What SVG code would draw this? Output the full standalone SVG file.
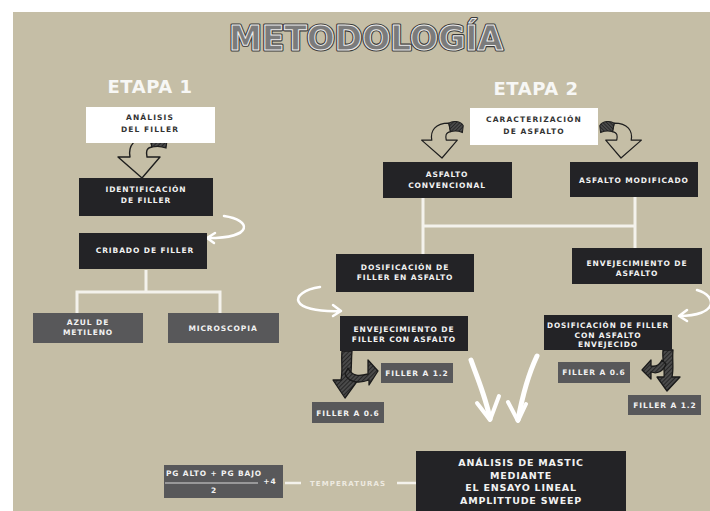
<svg xmlns="http://www.w3.org/2000/svg" width="710" height="511" viewBox="0 0 710 511">
<defs>
<style>
.t{font-family:"DejaVu Sans",Verdana,sans-serif;font-weight:bold;text-anchor:middle}
.s{font-size:7.5px;letter-spacing:0.9px;fill:#f2f2f2}
.d{font-size:7.5px;letter-spacing:1.1px;fill:#333}
.dark{fill:#232326}
.gray{fill:#58585a}
.wl{stroke:#f4f2ec;stroke-width:3;fill:none}
.wa{stroke:#ffffff;stroke-width:2.5;fill:none;stroke-linecap:round;stroke-linejoin:round}
.hd{font-size:18px;letter-spacing:0.5px;fill:#f7f7f5}
</style>
<pattern id="hatch" width="3" height="3" patternUnits="userSpaceOnUse" patternTransform="rotate(45)">
<rect width="3" height="3" fill="#4a4a4a"/>
<line x1="0" y1="0" x2="0" y2="3" stroke="#161616" stroke-width="1.4"/>
</pattern>
<g id="curly">
<path d="M-24,-21 L-12,-21 C-14,-32 -8,-41 8,-41 L10,-31 C4,-30 4,-26 5,-21 L18,-21 L0,0 Z" fill="none" stroke="#1e1e1e" stroke-width="1.4" stroke-linejoin="round"/>
<path d="M8,-41 C12,-44 22,-44 25,-38 L24,-30 C19,-32 14,-32 10,-31 Z" fill="url(#hatch)" stroke="#1e1e1e" stroke-width="1.2"/>
</g>
</defs>
<rect x="0" y="0" width="710" height="511" fill="#ffffff"/>
<rect x="13" y="12" width="697" height="499" fill="#c5bea6"/>

<g id="title">
<text x="366" y="50" class="t" font-size="33" textLength="274" lengthAdjust="spacingAndGlyphs" fill="#777" stroke="#3a3a3a" stroke-width="3.2" stroke-linejoin="round">METODOLOGÍA</text>
<text x="366" y="50" class="t" font-size="33" textLength="274" lengthAdjust="spacingAndGlyphs" fill="#7b7b7b" stroke="#ececec" stroke-width="1" stroke-linejoin="round">METODOLOGÍA</text>
</g>
<g id="etapa1"><text x="150" y="93" class="t hd">ETAPA 1</text></g>
<g id="etapa2"><text x="536" y="95" class="t hd">ETAPA 2</text></g>

<g id="connectors">
<use href="#curly" transform="translate(142,178)"/>
<use href="#curly" transform="translate(442,158) scale(0.85,0.85)"/>
<use href="#curly" transform="translate(621,158) scale(-0.85,0.85)"/>
<path class="wl" d="M146,270 V292 M77,292 H220 M77,290.5 V313 M220,290.5 V313"/>
<path class="wl" d="M423,198 V254 M635,197 V249 M423,226 H635"/>
<path class="wa" d="M224,216 C252,220 254,238 208,238 M215,233 L207,238 L214,243"/>
<path class="wa" d="M320,287 C288,292 288,313 341,311 M333,305 L341,311 L333,316"/>
<path class="wa" d="M697,290 C718,296 718,316 679,316 M687,310 L679,316 L687,321"/>
<path d="M342,351 L352,351 C351,362 352,370 350,380 L358,380 L345,398 L333,380 L341,380 C343,370 341,362 342,351 Z" fill="url(#hatch)" stroke="#1a1a1a" stroke-width="1.3" stroke-linejoin="round"/>
<path d="M348,368 C352,377 360,376 368,374 L368,360 L378,371 L369,385 L369,380 C358,384 348,382 345,374 Z" fill="url(#hatch)" stroke="#1a1a1a" stroke-width="1.3" stroke-linejoin="round"/>
<path d="M663,350 L673,350 C672,360 674,368 672,377 L680,377 L667,391 L657,377 L664,377 C665,368 662,360 663,350 Z" fill="url(#hatch)" stroke="#1a1a1a" stroke-width="1.3" stroke-linejoin="round"/>
<path d="M666,364 C663,372 657,374 651,372 L651,379 L642,370 L651,360 L651,366 C656,367 660,364 662,360 Z" fill="url(#hatch)" stroke="#1a1a1a" stroke-width="1.3" stroke-linejoin="round"/>
<path d="M471,360 C478,380 486,398 490,419" stroke="#fff" stroke-width="5" fill="none" stroke-linecap="round"/>
<path d="M477,403 L490,420 L499,396" stroke="#fff" stroke-width="4" fill="none" stroke-linecap="round" stroke-linejoin="round"/>
<path d="M537,356 C528,375 522,398 518,420" stroke="#fff" stroke-width="5" fill="none" stroke-linecap="round"/>
<path d="M508,402 L518,421 L526,404" stroke="#fff" stroke-width="4" fill="none" stroke-linecap="round" stroke-linejoin="round"/>
<path d="M285,483 H301 M397,483 H416" stroke="#f4f2ec" stroke-width="2.5"/>
</g>

<g id="n-analisis">
<rect x="86" y="107" width="129" height="36" fill="#fff"/>
<text class="t d" x="150" y="120">ANÁLISIS</text>
<text class="t d" x="150" y="132">DEL FILLER</text>
</g>
<g id="n-identificacion">
<rect x="79" y="178" width="134" height="38" class="dark"/>
<text class="t s" x="146" y="192">IDENTIFICACIÓN</text>
<text class="t s" x="146" y="203">DE FILLER</text>
</g>
<g id="n-cribado">
<rect x="79" y="233" width="128" height="36" class="dark"/>
<text class="t s" x="145" y="253">CRIBADO DE FILLER</text>
</g>
<g id="n-azul">
<rect x="33" y="313" width="110" height="30" class="gray"/>
<text class="t s" x="88" y="325">AZUL DE</text>
<text class="t s" x="88" y="335">METILENO</text>
</g>
<g id="n-microscopia">
<rect x="168" y="313" width="111" height="30" class="gray"/>
<text class="t s" x="223" y="331">MICROSCOPIA</text>
</g>
<g id="n-caracterizacion">
<rect x="470" y="108" width="128" height="37" fill="#fff"/>
<text class="t d" x="534" y="122">CARACTERIZACIÓN</text>
<text class="t d" x="534" y="134">DE ASFALTO</text>
</g>
<g id="n-convencional">
<rect x="383" y="162" width="129" height="36" class="dark"/>
<text class="t s" x="447" y="177">ASFALTO</text>
<text class="t s" x="447" y="188">CONVENCIONAL</text>
</g>
<g id="n-modificado">
<rect x="570" y="162" width="128" height="35" class="dark"/>
<text class="t s" x="634" y="183">ASFALTO MODIFICADO</text>
</g>
<g id="n-dosificacion">
<rect x="336" y="254" width="138" height="38" class="dark"/>
<text class="t s" x="405" y="270">DOSIFICACIÓN DE</text>
<text class="t s" x="405" y="280">FILLER EN ASFALTO</text>
</g>
<g id="n-envejecimiento-asfalto">
<rect x="572" y="248" width="130" height="36" class="dark"/>
<text class="t s" x="637" y="266">ENVEJECIMIENTO DE</text>
<text class="t s" x="637" y="276">ASFALTO</text>
</g>
<g id="n-envejecimiento-filler">
<rect x="340" y="316" width="128" height="35" class="dark"/>
<text class="t s" x="404" y="332">ENVEJECIMIENTO DE</text>
<text class="t s" x="404" y="342">FILLER CON ASFALTO</text>
</g>
<g id="n-dosificacion-envejecido">
<rect x="544" y="315" width="128" height="35" class="dark"/>
<text class="t s" x="608" y="328" textLength="122" lengthAdjust="spacingAndGlyphs">DOSIFICACIÓN DE FILLER</text>
<text class="t s" x="608" y="338">CON ASFALTO</text>
<text class="t s" x="608" y="347">ENVEJECIDO</text>
</g>
<g id="n-filler12-a">
<rect x="381" y="363" width="72" height="20" class="gray"/>
<text class="t s" x="417" y="376">FILLER A 1.2</text>
</g>
<g id="n-filler06-a">
<rect x="312" y="402" width="72" height="21" class="gray"/>
<text class="t s" x="348" y="416">FILLER A 0.6</text>
</g>
<g id="n-filler06-b">
<rect x="558" y="362" width="72" height="21" class="gray"/>
<text class="t s" x="594" y="375">FILLER A 0.6</text>
</g>
<g id="n-filler12-b">
<rect x="628" y="395" width="73" height="20" class="gray"/>
<text class="t s" x="665" y="408">FILLER A 1.2</text>
</g>
<g id="n-mastic">
<rect x="416" y="451" width="210" height="60" class="dark"/>
<text class="t s" style="font-size:9.5px;letter-spacing:0.8px" x="521" y="466">ANÁLISIS DE MASTIC</text>
<text class="t s" style="font-size:9.5px;letter-spacing:0.8px" x="521" y="478.5">MEDIANTE</text>
<text class="t s" style="font-size:9.5px;letter-spacing:0.8px" x="521" y="491">EL ENSAYO LINEAL</text>
<text class="t s" style="font-size:9.5px;letter-spacing:0.8px" x="521" y="503.5">AMPLITTUDE SWEEP</text>
</g>
<g id="n-formula">
<rect x="164" y="465" width="119" height="33" class="gray"/>
<text class="t s" x="214" y="476" textLength="96" lengthAdjust="spacingAndGlyphs">PG ALTO + PG BAJO</text>
<line x1="165" y1="483" x2="258" y2="483" stroke="#d8d8d8" stroke-width="1"/>
<text class="t s" x="214" y="493">2</text>
<text class="t s" x="270" y="484">+4</text>
</g>
<g id="n-temperaturas">
<text class="t" x="348" y="486" font-size="7" letter-spacing="1.1" fill="#eeeae0">TEMPERATURAS</text>
</g>
</svg>
